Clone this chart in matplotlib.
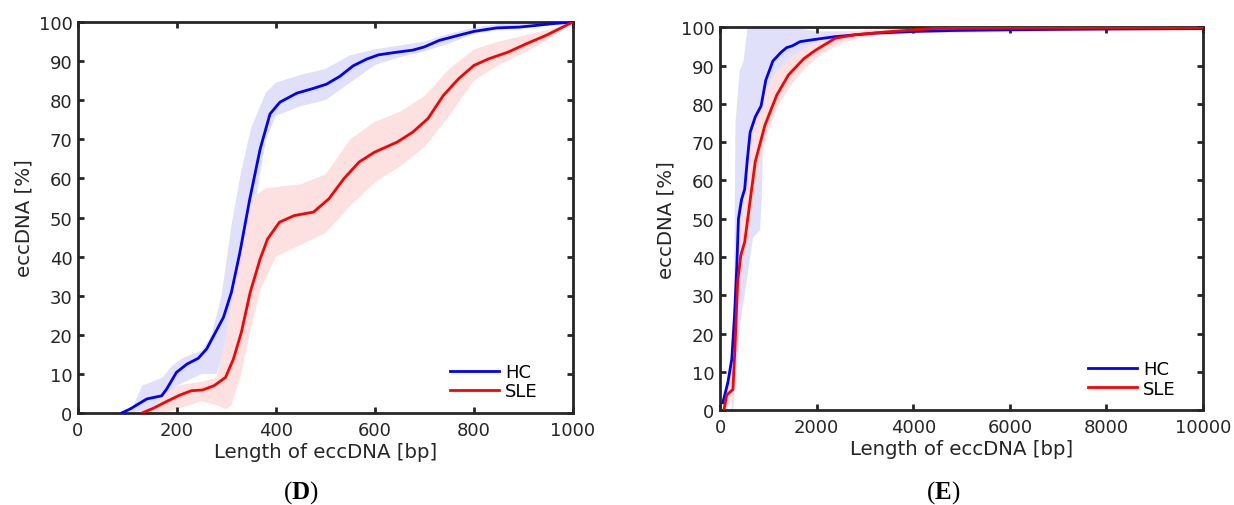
import numpy as np
import matplotlib
matplotlib.use("Agg")
import matplotlib.pyplot as plt

plt.rcParams['font.family'] = ['DejaVu Sans']
plt.rcParams['mathtext.fontset'] = 'custom'
plt.rcParams['mathtext.rm'] = 'Liberation Serif'
plt.rcParams['mathtext.bf'] = 'Liberation Serif:bold'

# ---------------- panel D (0 - 1000 bp) ----------------
d_hc_x = [88, 105, 139, 169, 179, 199, 220, 243, 260, 294, 310, 327, 347, 368, 388, 408,
          442, 475, 502, 529, 556, 583, 607, 645, 676, 699, 730, 769, 800, 846, 892, 923, 961, 1000]
d_hc_y = [0, 1, 3.6, 4.4, 6.1, 10.4, 12.5, 14, 16.4, 24.5, 30.9, 41, 54.7, 67.5, 76.5, 79.5,
          81.8, 83, 84.1, 86.1, 88.8, 90.5, 91.6, 92.3, 92.8, 93.6, 95.3, 96.6, 97.6, 98.5, 98.7, 99.1, 99.6, 100]

d_sle_x = [129, 152, 183, 206, 229, 252, 275, 298, 314, 330, 348, 368, 383, 407, 437, 476,
           507, 537, 568, 599, 645, 676, 707, 738, 769, 800, 830, 869, 907, 946, 1000]
d_sle_y = [0, 1.2, 3.2, 4.6, 5.7, 5.9, 7, 9.1, 13.8, 20.6, 30.9, 39.4, 44.5, 48.8, 50.5, 51.4,
           54.8, 59.9, 64.2, 66.7, 69.3, 71.8, 75.3, 81.2, 85.5, 88.9, 90.6, 92.3, 94.5, 96.6, 100]

d_hc_up_x = [105, 130, 170, 190, 210, 250, 270, 290, 310, 330, 350, 380, 400, 450, 500, 550,
             600, 650, 700, 750, 800, 850, 900, 1000]
d_hc_up_y = [0, 7, 9, 12, 14, 16, 20, 30, 48, 62, 73, 82, 84.5, 86.5, 88, 91.5,
             93, 94, 95, 97, 98.5, 99.5, 100, 100]
d_hc_lo_x = [105, 150, 180, 200, 250, 280, 300, 330, 360, 380, 400, 450, 500, 550,
             600, 650, 700, 750, 800, 850, 900, 1000]
d_hc_lo_y = [0, 1, 3, 7, 10, 10, 18, 32, 55, 70, 76, 78.5, 80, 84.5,
             89, 91, 92.5, 94.5, 97, 98, 98.5, 100]

d_sle_up_x = [140, 170, 200, 250, 280, 300, 330, 350, 380, 450, 500, 550, 600, 650, 700,
              750, 800, 850, 900, 950, 1000]
d_sle_up_y = [0, 4, 7, 8, 9, 20, 45, 55, 57.5, 58.5, 61, 70, 74.5, 77, 81,
              88, 93, 95, 96.5, 98, 100]
d_sle_lo_x = [170, 200, 250, 280, 300, 310, 330, 350, 370, 400, 450, 500, 550, 600, 650,
              700, 750, 800, 850, 900, 950, 1000]
d_sle_lo_y = [0, 1, 3, 2, 1, 2, 10, 22, 32, 40, 43, 46, 53, 59, 63,
              68, 76, 85, 89, 92, 95.5, 100]

# ---------------- panel E (0 - 10000 bp) ----------------
e_hc_x = [57, 162, 243, 300, 348, 381, 445, 510, 567, 623, 729, 850, 947, 1093, 1255, 1376,
          1498, 1660, 1984, 2389, 3198, 4008, 4818, 6032, 8056, 10000]
e_hc_y = [1.9, 7.2, 13.3, 24.7, 37.8, 50, 55, 57.7, 65.7, 72.6, 76.6, 79.5, 86.2, 91.2, 93.4, 94.7,
          95.2, 96.3, 96.9, 97.6, 98.5, 98.95, 99.2, 99.4, 99.6, 99.7]

e_sle_x = [81, 138, 267, 308, 364, 429, 510, 591, 729, 931, 1174, 1417, 1741, 1984, 2389,
           2793, 3603, 4413, 6032, 10000]
e_sle_y = [0, 3.9, 5.4, 15.9, 33.4, 40.4, 43.9, 51.7, 64.9, 74.5, 82.3, 87.6, 91.9, 94.1, 97.2,
           98.1, 99, 99.7, 99.9, 99.9]

e_hc_up_x = [240, 290, 300, 320, 405, 486, 570, 1500, 2000, 3000, 10000]
e_hc_up_y = [0, 25, 45, 75, 88.6, 91.2, 100, 100, 99, 99, 99.8]
e_hc_lo_x = [269, 414, 683, 828, 863, 890, 1035, 1242, 1511, 1800, 2340, 3000, 4000, 10000]
e_hc_lo_y = [0, 22, 45, 47, 55, 70, 78.9, 86, 91, 93.7, 96.3, 97.5, 98.5, 99.3]

e_sle_up_x = [80, 150, 250, 300, 350, 450, 550, 650, 800, 1000, 1200, 1500, 1800, 2100,
              2500, 3000, 4000, 10000]
e_sle_up_y = [2, 6, 14, 30, 40, 52, 62, 71, 79, 85, 89, 92.5, 95, 97,
              98.5, 99.3, 99.8, 100]
e_sle_lo_x = [120, 280, 330, 400, 500, 600, 700, 850, 1000, 1200, 1500, 1800, 2100, 2500,
              3000, 4000, 5000, 10000]
e_sle_lo_y = [0, 3, 20, 33, 40, 47, 56, 66, 73, 79.5, 85.5, 89.8, 93, 95.8,
              97.6, 99, 99.5, 99.9]

blue = '#0000ff'
red = '#ff0000'
band_blue = '#e0e0fa'
band_red = '#fde0e0'
dark = '#262626'
fs_tick = 13
fs_label = 14.2

fig = plt.figure(figsize=(12.34, 5.06), dpi=100)
axD = fig.add_axes([0.0632, 0.1818, 0.4011, 0.7727])
axE = fig.add_axes([0.5835, 0.1877, 0.3914, 0.7561])


def band(ax, ux, uy, lx, ly, color):
    px = np.concatenate([ux, lx[::-1]])
    py = np.concatenate([uy, ly[::-1]])
    ax.fill(px, py, color=color, lw=0, zorder=1)


def style(ax, xmax, xticks):
    ax.set_xlim(0, xmax)
    ax.set_ylim(0, 100)
    ax.set_xticks(xticks)
    ax.set_yticks(range(0, 101, 10))
    for s in ax.spines.values():
        s.set_linewidth(2.0)
        s.set_color(dark)
    ax.tick_params(direction='in', top=True, right=True, length=4, width=2.0,
                   color=dark, labelcolor=dark, labelsize=fs_tick)
    ax.tick_params(axis='x', pad=6)
    ax.tick_params(axis='y', pad=4)
    ax.set_xlabel('Length of eccDNA [bp]', fontsize=fs_label, color=dark, labelpad=2)
    ax.set_ylabel('eccDNA [%]', fontsize=fs_label, color=dark, labelpad=4)


panels = [
    (axD, (d_hc_x, d_hc_y), (d_sle_x, d_sle_y),
     ((d_hc_up_x, d_hc_up_y, d_hc_lo_x, d_hc_lo_y), (d_sle_up_x, d_sle_up_y, d_sle_lo_x, d_sle_lo_y)),
     1000, range(0, 1001, 200), (0.752, 0.032)),
    (axE, (e_hc_x, e_hc_y), (e_sle_x, e_sle_y),
     ((e_hc_up_x, e_hc_up_y, e_hc_lo_x, e_hc_lo_y), (e_sle_up_x, e_sle_up_y, e_sle_lo_x, e_sle_lo_y)),
     10000, range(0, 10001, 2000), (0.762, 0.032)),
]

for ax, hc, sle, bands, xmax, xticks, leg_pos in panels:
    band(ax, *[np.array(a) for a in bands[0]], band_blue)
    band(ax, *[np.array(a) for a in bands[1]], band_red)
    ax.plot(*hc, color=blue, lw=2.0, label='HC', zorder=3)
    ax.plot(*sle, color=red, lw=2.0, label='SLE', zorder=3)
    style(ax, xmax, xticks)
    ax.legend(loc='lower left', bbox_to_anchor=leg_pos, frameon=False, fontsize=fs_tick,
              handlelength=2.7, handletextpad=0.33, labelspacing=0.08,
              borderpad=0, borderaxespad=0)

fig.text(0.2435, 0.0257, r'($\mathbf{D}$)', fontsize=18, family='Liberation Serif',
         ha='center', va='center')
fig.text(0.764, 0.0257, r'($\mathbf{E}$)', fontsize=18, family='Liberation Serif',
         ha='center', va='center')

fig.savefig('out.png', dpi=100)
